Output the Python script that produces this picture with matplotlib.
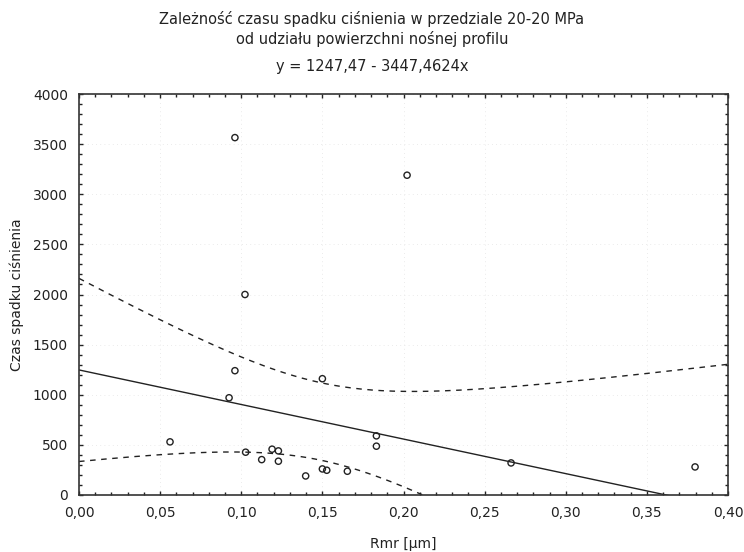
import numpy as np
import matplotlib
matplotlib.use("Agg")
import matplotlib.pyplot as plt
from matplotlib.ticker import MultipleLocator, FuncFormatter

plt.rcParams['font.family'] = ['DejaVu Sans']

# Data
rmr = [0.0961, 0.2022, 0.1023, 0.0961, 0.0925, 0.0561, 0.1027, 0.1126, 0.1190,
       0.1229, 0.1229, 0.1397, 0.1500, 0.1527, 0.1654, 0.1500, 0.1833, 0.1833,
       0.2663, 0.3797]
czas = [3565, 3190, 2000, 1240, 970, 530, 427, 353, 457,
        440, 337, 190, 260, 247, 237, 1160, 590, 487,
        320, 280]
intercept = 1247.47
slope = -3447.4624
title_lines = ["Zależność czasu spadku ciśnienia w przedziale 20-20 MPa",
               "od udziału powierzchni nośnej profilu"]
equation = "y = 1247,47 - 3447,4624x"
xlabel = "Rmr [µm]"
ylabel = "Czas spadku ciśnienia"

x = np.array(rmr)
y = np.array(czas)
n = len(x)
resid = y - (intercept + slope * x)
s = np.sqrt(np.sum(resid ** 2) / (n - 2))
t = 1.734  # two-sided 90% t-quantile, df = 18
xm = x.mean()
sxx = np.sum((x - xm) ** 2)

xs = np.linspace(0, 0.4, 400)
yfit = intercept + slope * xs
half = t * s * np.sqrt(1.0 / n + (xs - xm) ** 2 / sxx)

fig = plt.figure(figsize=(7.44, 5.52), dpi=100)
ax = fig.add_axes([79 / 744, 1 - 495 / 552, (728 - 79) / 744, (495 - 94) / 552])

ax.plot(xs, yfit, color='#222222', lw=1.0)
ax.plot(xs, yfit + half, color='#222222', lw=1.0, dashes=(4, 4))
ax.plot(xs, yfit - half, color='#222222', lw=1.0, dashes=(4, 4))
ax.scatter(x, y, s=20, facecolors='none', edgecolors='#222222', linewidths=1.0, zorder=3)

ax.set_xlim(0, 0.4)
ax.set_ylim(0, 4000)
ax.xaxis.set_major_locator(MultipleLocator(0.05))
ax.xaxis.set_minor_locator(MultipleLocator(0.01))
ax.yaxis.set_major_locator(MultipleLocator(500))
ax.yaxis.set_minor_locator(MultipleLocator(100))
ax.xaxis.set_major_formatter(FuncFormatter(lambda v, p: f"{v:.2f}".replace('.', ',')))
ax.yaxis.set_major_formatter(FuncFormatter(lambda v, p: f"{int(round(v))}"))
ax.tick_params(which='both', direction='in', top=True, right=True, labelsize=10,
               color='#222222', labelcolor='#222222')
ax.tick_params(which='major', length=3, width=1)
ax.tick_params(which='minor', length=2, width=1)
ax.tick_params(axis='x', which='major', pad=8)
ax.tick_params(axis='y', which='major', pad=8)
ax.grid(True, which='major', color='#e4e4e4', lw=0.6, linestyle=(0, (1, 4)))
for sp in ax.spines.values():
    sp.set_linewidth(1.2)
    sp.set_color('#333333')

ax.set_xlabel(xlabel, fontsize=10, labelpad=12, color='#222222')
ax.set_ylabel(ylabel, fontsize=10, labelpad=6, color='#222222')

cx = 0.5
fig.text(cx, 1 - 19 / 552, title_lines[0], ha='center', va='center', fontsize=10.5, color='#222222')
fig.text(cx, 1 - 39 / 552, title_lines[1], ha='center', va='center', fontsize=10.5, color='#222222')
fig.text(cx, 1 - 67 / 552, equation, ha='center', va='center', fontsize=10.5, color='#222222')

fig.savefig("out.png", dpi=100)
